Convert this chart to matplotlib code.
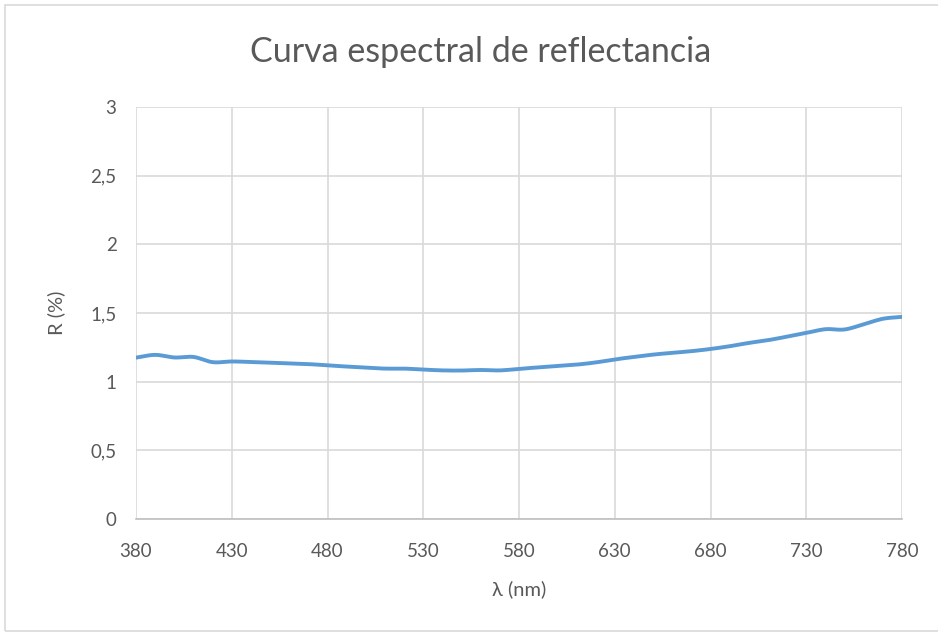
import numpy as np
import matplotlib
matplotlib.use('Agg')
import matplotlib.pyplot as plt

matplotlib.rc('font', family=['Lato', 'DejaVu Sans'])

# wavelength (nm) and reflectance (%)
wavelength = [380, 390, 400, 410, 420, 430, 440, 450, 460, 470,
              480, 490, 500, 510, 520, 530, 540, 550, 560, 570,
              580, 590, 600, 610, 620, 630, 640, 650, 660, 670,
              680, 690, 700, 710, 720, 730, 740, 750, 760, 770, 780]
reflectance = [1.175, 1.195, 1.176, 1.180, 1.142, 1.147, 1.143, 1.138, 1.133, 1.128,
               1.118, 1.110, 1.102, 1.095, 1.095, 1.088, 1.082, 1.081, 1.085, 1.082,
               1.093, 1.104, 1.114, 1.124, 1.140, 1.162, 1.180, 1.197, 1.210, 1.222,
               1.238, 1.258, 1.282, 1.302, 1.328, 1.355, 1.382, 1.380, 1.418, 1.458, 1.472]
xticks = [380, 430, 480, 530, 580, 630, 680, 730, 780]
yticks = [0, 0.5, 1, 1.5, 2, 2.5, 3]
ytick_labels = ['0', '0,5', '1', '1,5', '2', '2,5', '3']

text_col = '#595959'
grid_col = '#d9d9d9'


def smooth(x, y, n=12):
    """Catmull-Rom curve through the points, like Excel's smoothed line."""
    x = np.asarray(x, float)
    y = np.asarray(y, float)
    px = np.concatenate([[2 * x[0] - x[1]], x, [2 * x[-1] - x[-2]]])
    py = np.concatenate([[2 * y[0] - y[1]], y, [2 * y[-1] - y[-2]]])
    t = np.linspace(0, 1, n, endpoint=False)
    xs, ys = [], []
    for i in range(1, len(px) - 2):
        for p, out in ((px, xs), (py, ys)):
            p0, p1, p2, p3 = p[i - 1], p[i], p[i + 1], p[i + 2]
            out.extend(0.5 * (2 * p1 + (p2 - p0) * t
                              + (2 * p0 - 5 * p1 + 4 * p2 - p3) * t ** 2
                              + (3 * p1 - p0 - 3 * p2 + p3) * t ** 3))
    xs.append(x[-1])
    ys.append(y[-1])
    return xs, ys


fig = plt.figure(figsize=(9.38, 6.35), dpi=100)
ax = fig.add_axes([0.145, 0.1827, 0.8167, 0.6488])

# chart border
fig.patches.append(plt.Rectangle((5 / 938, 4 / 635), 940 / 938, 626 / 635,
                                 transform=fig.transFigure, fill=False,
                                 edgecolor='#d9d9d9', linewidth=1.2))

sx, sy = smooth(wavelength, reflectance)
ax.plot(sx, sy, color='#5b9bd5', linewidth=2.8,
        solid_capstyle='round', solid_joinstyle='round')

ax.set_xlim(380, 780)
ax.set_ylim(0, 3)
ax.set_xticks(xticks)
ax.set_yticks(yticks)
ax.set_yticklabels(ytick_labels)
ax.tick_params(length=0, labelsize=13.5, colors=text_col)
ax.tick_params(axis='x', pad=17)
ax.tick_params(axis='y', pad=14)
ax.grid(color=grid_col, linewidth=1.2)
ax.set_axisbelow(True)
for side in ['top', 'right', 'left']:
    ax.spines[side].set_visible(False)
ax.spines['bottom'].set_color('#bfbfbf')
ax.spines['bottom'].set_linewidth(1.2)

ax.set_xlabel('λ (nm)', fontsize=14.5, color=text_col, labelpad=15)
ax.set_ylabel('R (%)', fontsize=14.5, color=text_col, labelpad=18)
fig.text(0.512, 0.918, 'Curva espectral de reflectancia', ha='center',
         va='center', fontsize=24.5, color=text_col)

fig.savefig('out.png', dpi=100)
